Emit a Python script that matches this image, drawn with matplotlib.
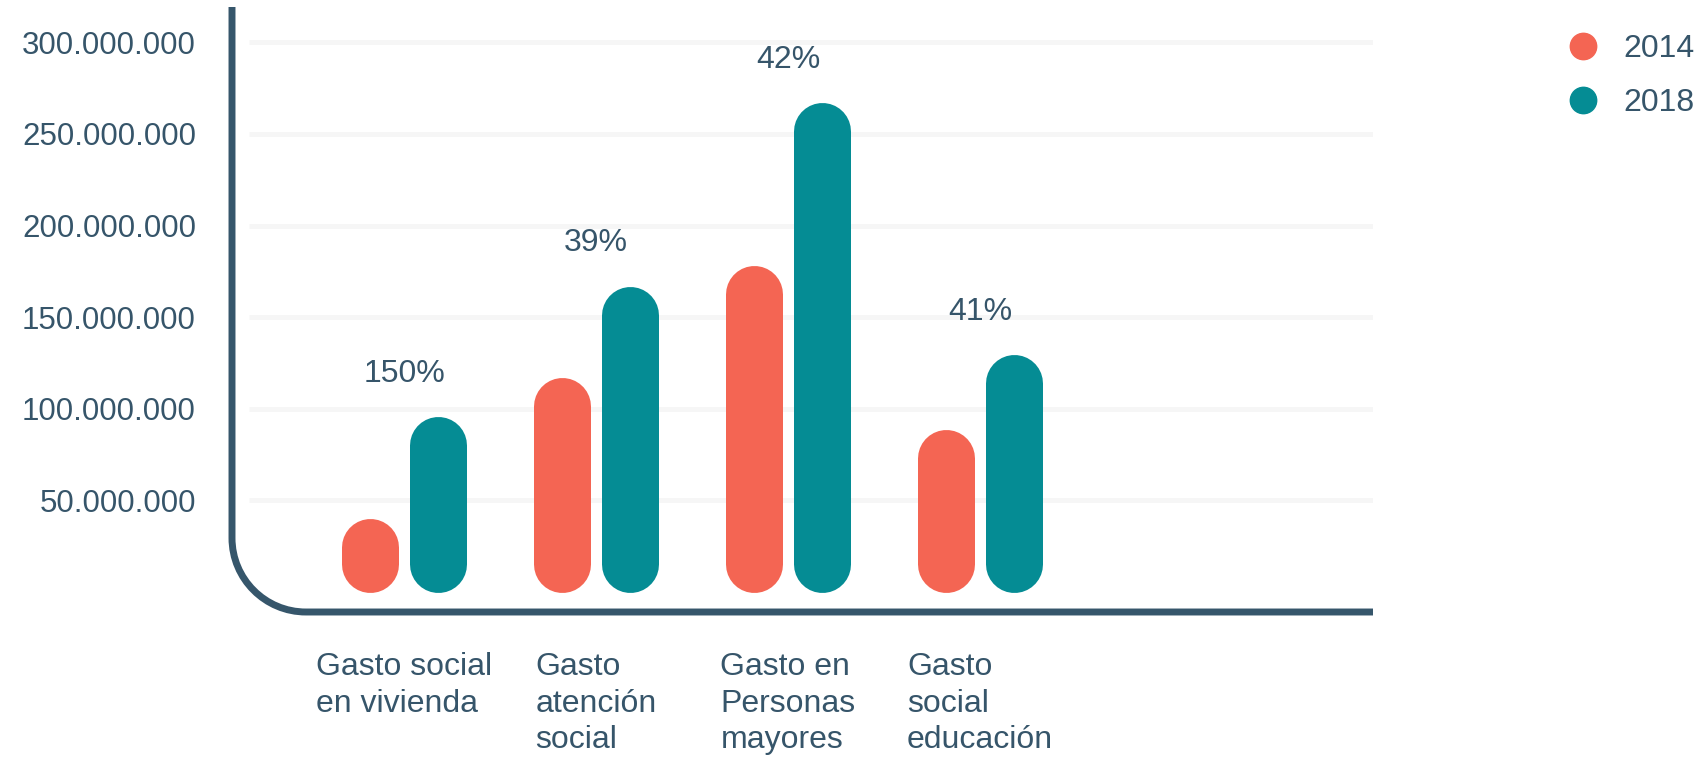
import matplotlib
matplotlib.use('Agg')
from matplotlib import pyplot as plt
from matplotlib.path import Path
from matplotlib.patches import PathPatch
from matplotlib.lines import Line2D

# data
categorias = ['Gasto social\nen vivienda', 'Gasto\natención\nsocial',
              'Gasto en\nPersonas\nmayores', 'Gasto\nsocial\neducación']
gasto_2014 = [40_400_000, 117_000_000, 178_000_000, 88_500_000]
gasto_2018 = [95_700_000, 167_000_000, 267_000_000, 129_500_000]
variacion = ['150%', '39%', '42%', '41%']
ticks_y = [50_000_000, 100_000_000, 150_000_000, 200_000_000, 250_000_000, 300_000_000]

rojo = '#F46553'
verde = '#058C94'
texto = '#36556A'
eje = '#36566B'

plt.rcParams['font.family'] = ['Liberation Sans', 'DejaVu Sans']

W, H = 1706, 761
fig = plt.figure(figsize=(W / 100, H / 100), dpi=100)
# axes box in pixels (from top-left): x 232..1373, y 7..612
ax = fig.add_axes([232 / W, (H - 612) / H, (1373 - 232) / W, (612 - 7) / H])
ax.set_xlim(-0.896, 5.047)
ax.set_ylim(-10_900_000, 319_300_000)
for s in ax.spines.values():
    s.set_visible(False)
ax.set_xticks([])
ax.set_yticks(ticks_y)
ax.set_yticklabels(['{:,}'.format(t).replace(',', '.') for t in ticks_y],
                   fontsize=22.5, color=texto)
ax.tick_params(axis='y', length=0, pad=26)

# light gridlines
ax.hlines(ticks_y, -0.806, 5.047, color='#F6F6F6', lw=3.6, zorder=0)

# frame with rounded corner (quarter circle), drawn in pixels
R = 74
k = 0.5523 * R
pts = [(232, 7), (232, 612 - R), (232, 612 - R + k), (232 + R - k, 612),
       (232 + R, 612), (1373, 612)]
codes = [Path.MOVETO, Path.LINETO, Path.CURVE4, Path.CURVE4, Path.CURVE4,
         Path.LINETO]
verts = [(x / 100, (H - y) / 100) for x, y in pts]
fig.add_artist(PathPatch(Path(verts, codes), fill=False, edgecolor=eje, lw=5,
                         capstyle='butt', transform=fig.dpi_scale_trans))

# pill shaped bars: thick lines with round caps
ancho_px = 57
px_por_unidad = ax.transData.transform((0, 1e6))[1] - ax.transData.transform((0, 0))[1]
r = (ancho_px / 2) / px_por_unidad * 1e6
lw = ancho_px * 72 / 100
dx = 0.175
for i in range(len(categorias)):
    ax.plot([i - dx, i - dx], [r, gasto_2014[i] - r], lw=lw, color=rojo,
            solid_capstyle='round')
    ax.plot([i + dx, i + dx], [r, gasto_2018[i] - r], lw=lw, color=verde,
            solid_capstyle='round')
    ax.annotate(variacion[i], (i, gasto_2018[i]), xytext=(0, 31),
                textcoords='offset points', ha='center', va='center',
                fontsize=23, color=texto)
    ax.text(i, -0.066, categorias[i], transform=ax.get_xaxis_transform(),
            ha='center', va='top', multialignment='left', fontsize=23,
            color=texto, linespacing=1.29)

handles = [Line2D([], [], ls='', marker='o', ms=19, color=rojo),
           Line2D([], [], ls='', marker='o', ms=19, color=verde)]
fig.legend(handles, ['2014', '2018'], loc='upper left',
           bbox_to_anchor=(1567 / W, (H - 34) / H), frameon=False, fontsize=23,
           handlelength=1, handletextpad=0.75, borderpad=0, borderaxespad=0,
           labelspacing=0.76, labelcolor=texto)

fig.savefig('out.png', dpi=100)
